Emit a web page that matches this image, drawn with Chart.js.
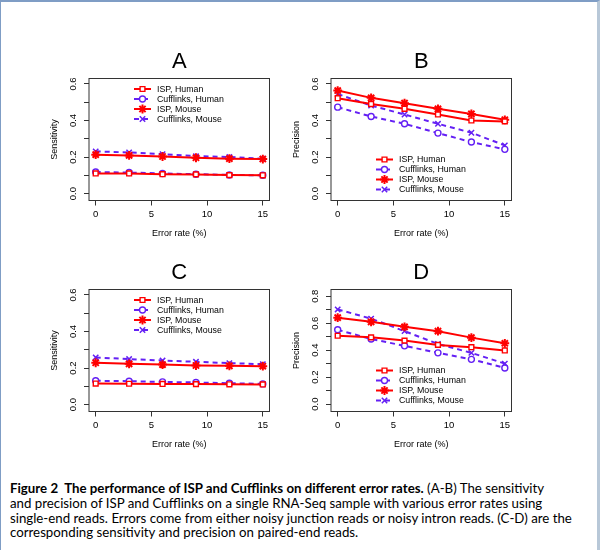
<!DOCTYPE html>
<html>
<head>
<meta charset="utf-8">
<script src="https://cdn.jsdelivr.net/npm/chart.js@4.4.1/dist/chart.umd.min.js"></script>
<style>
  body { margin: 0; width: 600px; height: 550px; position: relative; background: #fff; overflow: hidden; }
  .frame { position: absolute; left: 0; top: 0; width: 600px; height: 550px; box-sizing: border-box;
           border-top: 2px solid #7f9dc5; border-left: 1px solid #7f9dc5; border-right: 3px solid #b8c8d8; }
  canvas { position: absolute; }
  #caption { position: absolute; left: 10px; top: 481px; font-family: Lato, "Liberation Sans", sans-serif;
             font-size: 13px; line-height: 14.8px; color: #000; white-space: nowrap; }
  #caption b { font-weight: bold; }
</style>
</head>
<body>
<div class="frame"></div>
<canvas id="panelA" width="255" height="205" style="left:30px;top:40px"></canvas>
<canvas id="panelB" width="255" height="205" style="left:272px;top:40px"></canvas>
<canvas id="panelC" width="255" height="205" style="left:30px;top:251px"></canvas>
<canvas id="panelD" width="255" height="205" style="left:272px;top:251px"></canvas>
<div id="caption">
  <div id="capLine1"><b>Figure 2&nbsp; The performance of ISP and Cufflinks on different error rates.</b> (A-B) The sensitivity</div>
  <div>and precision of ISP and Cufflinks on a single RNA-Seq sample with various error rates using</div>
  <div>single-end reads. Errors come from either noisy junction reads or noisy intron reads. (C-D) are the</div>
  <div>corresponding sensitivity and precision on paired-end reads.</div>
</div>
<script>
// ---- data ----
const errorRates = [0, 3, 6, 9, 12, 15];
const seriesLabels = ['ISP, Human', 'Cufflinks, Human', 'ISP, Mouse', 'Cufflinks, Mouse'];
const xTicks = [0, 5, 10, 15];
const yTicksSens = [0, 0.1, 0.2, 0.3, 0.4, 0.5, 0.6];
const yTicksPrecB = [0, 0.1, 0.2, 0.3, 0.4, 0.5, 0.6];
const yTicksPrecD = [0, 0.1, 0.2, 0.3, 0.4, 0.5, 0.6, 0.7, 0.8];

// A: sensitivity, single-end
const sensSingleIspHuman  = [0.110, 0.110, 0.106, 0.105, 0.101, 0.100];
const sensSingleCuffHuman = [0.118, 0.115, 0.110, 0.106, 0.102, 0.100];
const sensSingleIspMouse  = [0.213, 0.209, 0.203, 0.196, 0.191, 0.189];
const sensSingleCuffMouse = [0.231, 0.225, 0.216, 0.205, 0.200, 0.191];
// B: precision, single-end
const precSingleIspHuman  = [0.522, 0.490, 0.464, 0.433, 0.400, 0.395];
const precSingleCuffHuman = [0.473, 0.422, 0.382, 0.331, 0.282, 0.242];
const precSingleIspMouse  = [0.564, 0.524, 0.495, 0.464, 0.436, 0.404];
const precSingleCuffMouse = [0.545, 0.482, 0.433, 0.382, 0.333, 0.264];
// C: sensitivity, paired-end
const sensPairedIspHuman  = [0.115, 0.114, 0.113, 0.112, 0.111, 0.110];
const sensPairedCuffHuman = [0.130, 0.128, 0.124, 0.121, 0.117, 0.113];
const sensPairedIspMouse  = [0.229, 0.223, 0.219, 0.214, 0.212, 0.210];
const sensPairedCuffMouse = [0.258, 0.249, 0.241, 0.234, 0.227, 0.221];
// D: precision, paired-end
const precPairedIspHuman  = [0.507, 0.495, 0.471, 0.439, 0.422, 0.398];
const precPairedCuffHuman = [0.551, 0.483, 0.432, 0.380, 0.332, 0.268];
const precPairedIspMouse  = [0.641, 0.610, 0.573, 0.541, 0.493, 0.451];
const precPairedCuffMouse = [0.702, 0.634, 0.541, 0.446, 0.380, 0.300];

// ---- styles (R-like) ----
const RED = '#ff0000';
const BLUE = '#6420f4';
const FONT = '"Liberation Sans", Arial, sans-serif';
const seriesStyles = [
  { color: RED,  dash: [],     pointStyle: 'rect',     radius: 3.4, bw: 1.4 },
  { color: BLUE, dash: [5, 4], pointStyle: 'circle',   radius: 3,   bw: 1.4 },
  { color: RED,  dash: [],     pointStyle: 'star',     radius: 4.4, bw: 2 },
  { color: BLUE, dash: [5, 4], pointStyle: 'crossRot', radius: 3.8, bw: 1.5 }
];

function makeDatasets(series) {
  return series.map((vals, i) => {
    const s = seriesStyles[i];
    return {
      label: seriesLabels[i],
      data: errorRates.map((x, j) => ({ x: x, y: vals[j] })),
      borderColor: s.color,
      borderWidth: 2,
      borderDash: s.dash,
      pointStyle: s.pointStyle,
      pointRadius: s.radius,
      pointBorderWidth: s.bw,
      pointBorderColor: s.color,
      pointBackgroundColor: '#fff',
      tension: 0,
      fill: false
    };
  });
}

// box, rotated y labels, panel letter and legend, drawn the way R does it
const rDecor = {
  id: 'rDecor',
  afterDraw(chart, args, opts) {
    const { ctx, chartArea: a } = chart;
    const y = chart.scales.y;
    ctx.save();
    ctx.strokeStyle = '#333';
    ctx.lineWidth = 1;
    ctx.setLineDash([]);
    ctx.strokeRect(a.left, a.top, a.right - a.left, a.bottom - a.top);

    ctx.fillStyle = '#000';
    ctx.textAlign = 'center';
    ctx.textBaseline = 'middle';
    ctx.font = '9.5px ' + FONT;
    opts.yTicks.forEach((v, i) => {
      if (i % 2) return;
      ctx.save();
      ctx.translate(a.left - 15.5, y.getPixelForValue(v));
      ctx.rotate(-Math.PI / 2);
      ctx.fillText(v.toFixed(1), 0, 0);
      ctx.restore();
    });

    ctx.font = '22px ' + FONT;
    ctx.fillText(opts.letter, (a.left + a.right) / 2, a.top - 17);

    ctx.font = '8.8px ' + FONT;
    ctx.textAlign = 'left';
    chart.data.datasets.forEach((ds, i) => {
      const s = seriesStyles[i];
      const ly = opts.legendAt === 'top' ? a.top + 10.5 + 10 * i : a.bottom - 41 + 10 * i;
      const x0 = a.left + 45, x1 = a.left + 62;
      ctx.strokeStyle = s.color;
      ctx.lineWidth = 2;
      ctx.setLineDash(s.dash);
      ctx.beginPath();
      ctx.moveTo(x0, ly);
      ctx.lineTo(x1, ly);
      ctx.stroke();
      ctx.setLineDash([]);
      ctx.lineWidth = s.bw;
      ctx.fillStyle = '#fff';
      Chart.helpers.drawPoint(ctx, { pointStyle: s.pointStyle, radius: s.radius, rotation: 0, borderWidth: s.bw }, (x0 + x1) / 2, ly);
      ctx.fillStyle = '#000';
      ctx.fillText(ds.label, a.left + 68, ly + 0.5);
    });
    ctx.restore();
  }
};

function makePanel(id, letter, yTitle, yTicks, yMin, yMax, series, legendAt) {
  return new Chart(document.getElementById(id), {
    type: 'line',
    data: { datasets: makeDatasets(series) },
    options: {
      responsive: false,
      animation: false,
      layout: { padding: { left: 0, top: 38.5, right: 15.5, bottom: 0 } },
      plugins: {
        legend: { display: false },
        tooltip: { enabled: false },
        title: { display: false },
        rDecor: { letter: letter, yTicks: yTicks, legendAt: legendAt }
      },
      scales: {
        x: {
          type: 'linear',
          min: -0.6,
          max: 15.6,
          afterBuildTicks: s => { s.ticks = xTicks.map(v => ({ value: v })); },
          afterFit: s => { s.height = 44.5; },
          grid: { drawOnChartArea: false, tickLength: 5, color: '#333' },
          border: { display: false },
          ticks: { font: { size: 9.5, family: FONT }, color: '#000', padding: 3, maxRotation: 0, autoSkip: false },
          title: { display: true, text: 'Error rate (%)', color: '#000', font: { size: 9, family: FONT }, padding: { top: 0, bottom: 6.5 } }
        },
        y: {
          type: 'linear',
          min: yMin,
          max: yMax,
          afterBuildTicks: s => { s.ticks = yTicks.map(v => ({ value: v })); },
          afterFit: s => { s.width = 59; },
          grid: { drawOnChartArea: false, tickLength: 5, color: '#333' },
          border: { display: false },
          ticks: { display: false },
          title: { display: true, text: yTitle, color: '#000', font: { size: 9, family: FONT }, padding: { top: 19.5, bottom: 0 } }
        }
      }
    },
    plugins: [rDecor]
  });
}

makePanel('panelA', 'A', 'Sensitivity', yTicksSens, -0.038, 0.63,
  [sensSingleIspHuman, sensSingleCuffHuman, sensSingleIspMouse, sensSingleCuffMouse], 'top');
makePanel('panelB', 'B', 'Precision', yTicksPrecB, -0.038, 0.63,
  [precSingleIspHuman, precSingleCuffHuman, precSingleIspMouse, precSingleCuffMouse], 'bottom');
makePanel('panelC', 'C', 'Sensitivity', yTicksSens, -0.038, 0.63,
  [sensPairedIspHuman, sensPairedCuffHuman, sensPairedIspMouse, sensPairedCuffMouse], 'top');
makePanel('panelD', 'D', 'Precision', yTicksPrecD, -0.055, 0.85,
  [precPairedIspHuman, precPairedCuffHuman, precPairedIspMouse, precPairedCuffMouse], 'bottom');

// fit the caption to the width of the original text block
const cap = document.getElementById('caption');
const w = document.getElementById('capLine1').scrollWidth;
cap.style.fontSize = (13 * 563 / w).toFixed(2) + 'px';
</script>
</body>
</html>
